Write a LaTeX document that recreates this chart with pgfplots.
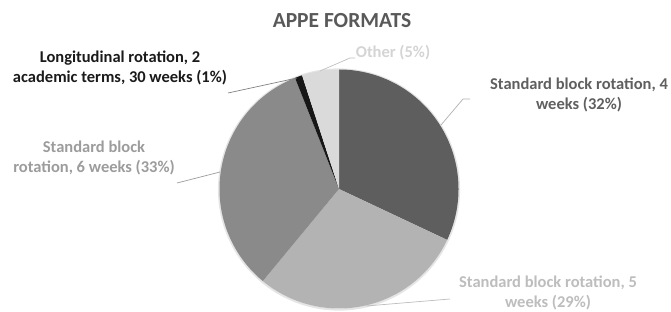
\documentclass[border=0pt]{standalone}
\usepackage{pgfplots}
\pgfplotsset{compat=1.18}
\usepackage{pgfplotstable}
\usepackage{fontspec}
\setmainfont{Carlito}
\definecolor{sA}{HTML}{5E5E5E}
\definecolor{sB}{HTML}{B3B3B3}
\definecolor{sC}{HTML}{8A8A8A}
\definecolor{sD}{HTML}{171717}
\definecolor{sE}{HTML}{DADADA}
\definecolor{tA}{HTML}{5F5F5F}
\definecolor{tB}{HTML}{BDBDBD}
\definecolor{tC}{HTML}{9C9C9C}
\definecolor{tD}{HTML}{1A1A1A}
\definecolor{tE}{HTML}{D4D4D4}
\definecolor{ttl}{HTML}{595959}

% shares of the APPE formats (percent)
\pgfplotstableread{
share
32
29
33
1
5
}\piedata
\pgfplotstablegetelem{0}{share}\of\piedata \let\vA\pgfplotsretval
\pgfplotstablegetelem{1}{share}\of\piedata \let\vB\pgfplotsretval
\pgfplotstablegetelem{2}{share}\of\piedata \let\vC\pgfplotsretval
\pgfplotstablegetelem{3}{share}\of\piedata \let\vD\pgfplotsretval
\pgfplotstablegetelem{4}{share}\of\piedata \let\vE\pgfplotsretval
\pgfmathsetmacro\cA{3.6*\vA}
\pgfmathsetmacro\cB{\cA+3.6*\vB}
\pgfmathsetmacro\cC{\cB+3.6*\vC}
\pgfmathsetmacro\cD{\cC+3.6*\vD}
\pgfmathsetmacro\cE{\cD+3.6*\vE}

\begin{document}
\begin{tikzpicture}[lbl/.style={font=\fontsize{16.5}{20}\selectfont\bfseries, align=center, anchor=center}]
\begin{axis}[hide axis, x=1pt, y=1pt, xmin=0, xmax=671, ymin=0, ymax=311,
  anchor=origin, at={(0,0)}, clip=false]
% faint shadow ring
\addplot[draw=black!10, line width=2.2pt, domain=0:360, samples=180]
  ({339+120*sin(x)},{121.5+120*cos(x)});
\addplot[fill=sA, draw=none, domain=0:\cA, samples=120]
  ({339+119.5*sin(x)},{122+119.5*cos(x)}) -- (axis cs:339,122) -- cycle;
\addplot[fill=sB, draw=none, domain=\cA:\cB, samples=120]
  ({339+119.5*sin(x)},{122+119.5*cos(x)}) -- (axis cs:339,122) -- cycle;
\addplot[fill=sC, draw=none, domain=\cB:\cC, samples=120]
  ({339+119.5*sin(x)},{122+119.5*cos(x)}) -- (axis cs:339,122) -- cycle;
\addplot[fill=sD, draw=none, domain=\cC:\cD, samples=10]
  ({339+119.5*sin(x)},{122+119.5*cos(x)}) -- (axis cs:339,122) -- cycle;
\addplot[fill=sE, draw=none, domain=\cD:\cE, samples=20]
  ({339+119.5*sin(x)},{122+119.5*cos(x)}) -- (axis cs:339,122) -- cycle;
% leader lines
\addplot[draw=tC!80, line width=0.7pt, no marks] coordinates {(470,212) (463,212) (441,186)};
\addplot[draw=tB, line width=0.7pt, no marks] coordinates {(450,12) (366,5)};
\addplot[draw=tC, line width=0.7pt, no marks] coordinates {(177,128) (220,139)};
\addplot[draw=gray, line width=0.7pt, no marks] coordinates {(228,218) (297,233)};
\addplot[draw=tE!90!black, line width=0.7pt, no marks] coordinates {(355,253) (350,253) (320,240)};
% labels
\node[font=\fontsize{21.5}{25}\selectfont\bfseries, text=ttl] at (axis cs:342,290) {APPE FORMATS};
\node[lbl, text=tD] at (axis cs:120,243.5) {Longitudinal rotation, 2\\academic terms, 30 weeks (1\%)};
\node[lbl, text=tA] at (axis cs:579,216) {Standard block rotation, 4\\weeks (32\%)};
\node[lbl, text=tB] at (axis cs:548,18) {Standard block rotation, 5\\weeks (29\%)};
\node[lbl, text=tC] at (axis cs:94,153) {Standard block\\rotation, 6 weeks (33\%)};
\node[lbl, text=tE] at (axis cs:393,258) {Other (5\%)};
\end{axis}
\pgfresetboundingbox
\path (0,0) rectangle (671pt,311pt);
\end{tikzpicture}
\end{document}
